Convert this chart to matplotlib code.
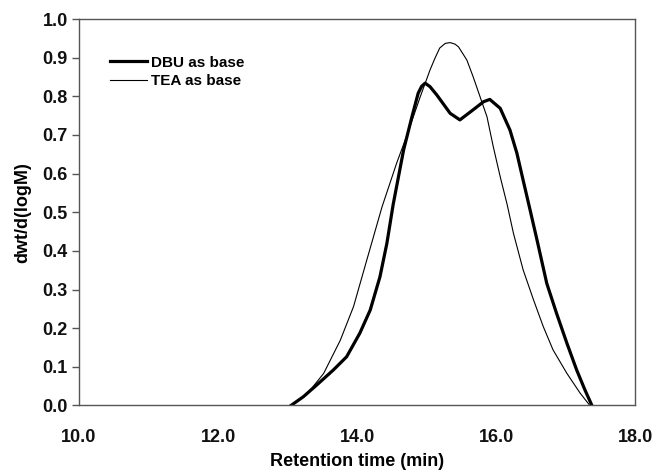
import matplotlib
matplotlib.use("Agg")
import matplotlib.pyplot as plt

plt.rcParams["font.family"] = ["Liberation Sans", "DejaVu Sans"]
plt.rcParams["font.weight"] = "bold"

# DBU trace (thick)
dbu_x = [13.05, 13.23, 13.42, 13.66, 13.85, 14.04, 14.19, 14.33, 14.43, 14.52,
         14.67, 14.79, 14.88, 14.93, 14.98, 15.05, 15.15, 15.34, 15.48, 15.67,
         15.82, 15.91, 16.06, 16.20, 16.30, 16.39, 16.49, 16.59, 16.73, 16.87,
         17.02, 17.16, 17.28, 17.38]
dbu_y = [0.0, 0.023, 0.053, 0.092, 0.126, 0.187, 0.247, 0.333, 0.420, 0.520,
         0.661, 0.747, 0.808, 0.826, 0.834, 0.825, 0.803, 0.756, 0.739, 0.765,
         0.786, 0.792, 0.769, 0.713, 0.653, 0.583, 0.506, 0.428, 0.316, 0.239,
         0.161, 0.092, 0.040, 0.0]

# TEA trace (thin)
tea_x = [13.05, 13.20, 13.35, 13.52, 13.76, 13.95, 14.14, 14.36, 14.57, 14.71,
         14.91, 15.05, 15.12, 15.19, 15.27, 15.34, 15.41, 15.46, 15.58, 15.67,
         15.77, 15.87, 15.96, 16.06, 16.16, 16.25, 16.39, 16.54, 16.68, 16.82,
         17.02, 17.21, 17.35]
tea_y = [0.0, 0.018, 0.045, 0.083, 0.169, 0.256, 0.376, 0.514, 0.627, 0.695,
         0.799, 0.868, 0.898, 0.925, 0.937, 0.939, 0.935, 0.928, 0.894, 0.851,
         0.799, 0.747, 0.670, 0.592, 0.520, 0.446, 0.351, 0.273, 0.204, 0.144,
         0.083, 0.032, 0.0]

x_ticks = [10.0, 12.0, 14.0, 16.0, 18.0]
y_ticks = [0.0, 0.1, 0.2, 0.3, 0.4, 0.5, 0.6, 0.7, 0.8, 0.9, 1.0]

fig = plt.figure(figsize=(6.54, 4.72), dpi=100)
ax = fig.add_axes([0.1208, 0.1409, 0.8502, 0.8188])

ax.plot(dbu_x, dbu_y, color="black", lw=2.3, label="DBU as base")
ax.plot(tea_x, tea_y, color="black", lw=0.8, label="TEA as base")

ax.set_xlim(10, 18)
ax.set_ylim(0, 1.0)
ax.set_xticks(x_ticks)
ax.set_xticklabels([f"{v:.1f}" for v in x_ticks])
ax.set_yticks(y_ticks)
ax.set_yticklabels([f"{v:.1f}" for v in y_ticks])

for s in ax.spines.values():
    s.set_color("#555555")
    s.set_linewidth(1.0)

ax.tick_params(axis="x", length=0, pad=17, labelsize=13, colors="#111111")
ax.tick_params(axis="y", length=5, width=1, direction="out", pad=3,
               labelsize=13, colors="#111111")
ax.tick_params(axis="y", color="#555555")

ax.set_xlabel("Retention time (min)", fontsize=13, fontweight="bold", labelpad=5)
ax.set_ylabel("dwt/d(logM)", fontsize=13, fontweight="bold", labelpad=8)

leg = ax.legend(loc="upper left", bbox_to_anchor=(0.056, 0.905), frameon=False,
                fontsize=11, handlelength=2.4, handletextpad=0.25,
                labelspacing=0.3, borderpad=0, borderaxespad=0)
for t in leg.get_texts():
    t.set_fontweight("bold")

fig.savefig("out.png", dpi=100)
